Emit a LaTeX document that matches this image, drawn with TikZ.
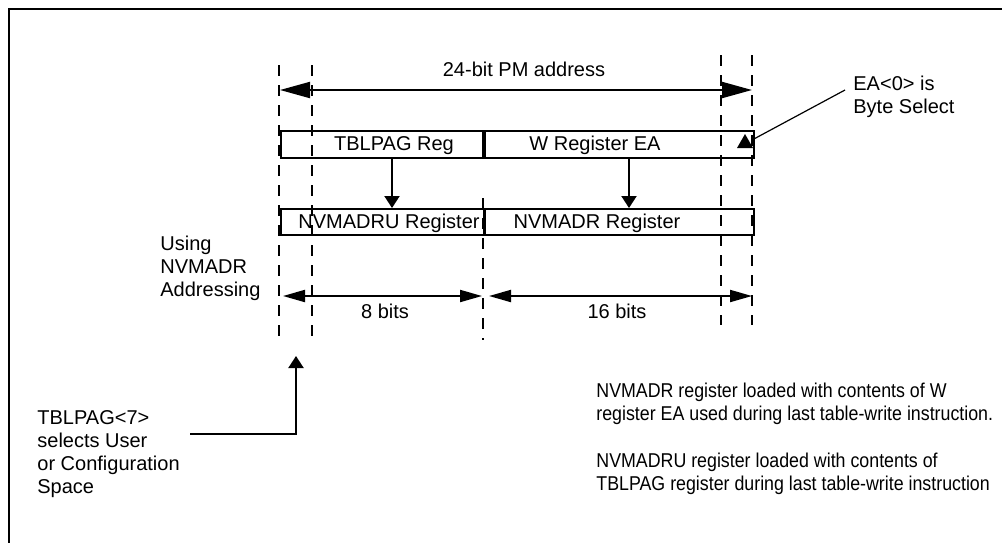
\documentclass[tikz,border=0pt]{standalone}
\usepackage{fontspec}
\setmainfont{Liberation Sans}
\newfontfamily\narrowfont[FakeStretch=0.89]{Liberation Sans}
\usetikzlibrary{arrows.meta}
\begin{document}
\begin{tikzpicture}[x=0.5pt,y=-0.5pt,
  txt/.style={font=\fontsize{10}{11.5}\selectfont, inner sep=0pt},
  notetxt/.style={font=\narrowfont\fontsize{10}{11.5}\selectfont, inner sep=0pt},
  regbox/.style={draw, line width=1pt, inner sep=0pt, anchor=north west},
  guide/.style={line width=1pt, dash pattern=on 5.5pt off 4.5pt},
  bigdim/.style={line width=1pt, {Triangle[length=15pt,width=8pt]}-{Triangle[length=15pt,width=8pt]}},
  smalldim/.style={line width=1pt, {Triangle[length=11pt,width=6pt]}-{Triangle[length=11pt,width=6pt]}},
  flow/.style={line width=1pt, -{Triangle[length=6pt,width=7.5pt]}},
  leader/.style={line width=0.6pt}
]
\useasboundingbox (0,0) rectangle (1002,543);
% frame
\draw[line width=1.3pt] (1002,9) -- (9,9) -- (9,543);

% dashed guide lines
\draw[guide] (279,65) -- (279,340);
\draw[guide] (312,65) -- (312,340);
\draw[guide] (483,198) -- (483,340);
\draw[guide] (721,55) -- (721,325);
\draw[guide] (752,55) -- (752,325);

% registers
\node[regbox, minimum width=101pt, minimum height=13.5pt] (tbl) at (280,130) {};
\node[regbox, minimum width=134.5pt, minimum height=13.5pt] (wea) at (484,130) {};
\node[regbox, minimum width=101.5pt, minimum height=13pt] (nvu) at (280,208) {};
\node[regbox, minimum width=134.5pt, minimum height=13pt] (nvr) at (484,208) {};

\node[txt, anchor=base] (tbltxt) at (394,150) {TBLPAG Reg};
\node[txt, anchor=base] (weatxt) at (595,150) {W Register EA};
\node[txt, anchor=base] (nvutxt) at (389,228) {NVMADRU Register};
\node[txt, anchor=base] (nvrtxt) at (597,228) {NVMADR Register};

% down arrows
\coordinate (ax1) at (392,0);
\coordinate (ax2) at (629,0);
\draw[flow] (tbl.south -| ax1) -- (nvu.north -| ax1);
\draw[flow] (wea.south -| ax2) -- (nvr.north -| ax2);

% 24-bit dimension
\coordinate (pmL) at (280,90);
\coordinate (pmR) at (752,90);
\draw[bigdim] (pmL) -- (pmR);
\node[txt, anchor=base] (pmtxt) at (524,76) {24-bit PM address};

% 8 / 16 bits dimensions
\coordinate (b8L) at (283,296);
\coordinate (b8R) at (482,296);
\coordinate (b16L) at (489,296);
\coordinate (b16R) at (752,296);
\draw[smalldim] (b8L) -- (b8R);
\draw[smalldim] (b16L) -- (b16R);
\node[txt, anchor=base] (b8txt) at (385,318) {8 bits};
\node[txt, anchor=base] (b16txt) at (617,318) {16 bits};

% EA<0> byte select
\node[txt, anchor=base west, align=left] (eatxt) at (853,113) {EA<0> is\\Byte Select};
\coordinate (eastart) at (845,90);
\coordinate (eaend) at (752,140);
\draw[leader] (eastart) -- (eaend);
\fill (745,134) -- (753,148) -- (737,148) -- cycle;

% Using NVMADR Addressing
\node[txt, anchor=base west, align=left] (usetxt) at (160,296) {Using\\NVMADR\\Addressing};

% TBLPAG<7>
\node[txt, anchor=base west, align=left] (seltxt) at (37,493) {TBLPAG<7>\\selects User\\or Configuration\\Space};
\coordinate (selsrc) at (190,434);
\coordinate (seltip) at (296,356);
\draw[line width=1pt, -{Triangle[length=6pt,width=7.5pt]}] (selsrc) -| (seltip);

% notes
\node[notetxt, anchor=base west, align=left] (note1) at (596,420) {NVMADR register loaded with contents of W\\register EA used during last table-write instruction.};
\node[notetxt, anchor=base west, align=left] (note2) at (596,490) {NVMADRU register loaded with contents of\\TBLPAG register during last table-write instruction};
\end{tikzpicture}
\end{document}
